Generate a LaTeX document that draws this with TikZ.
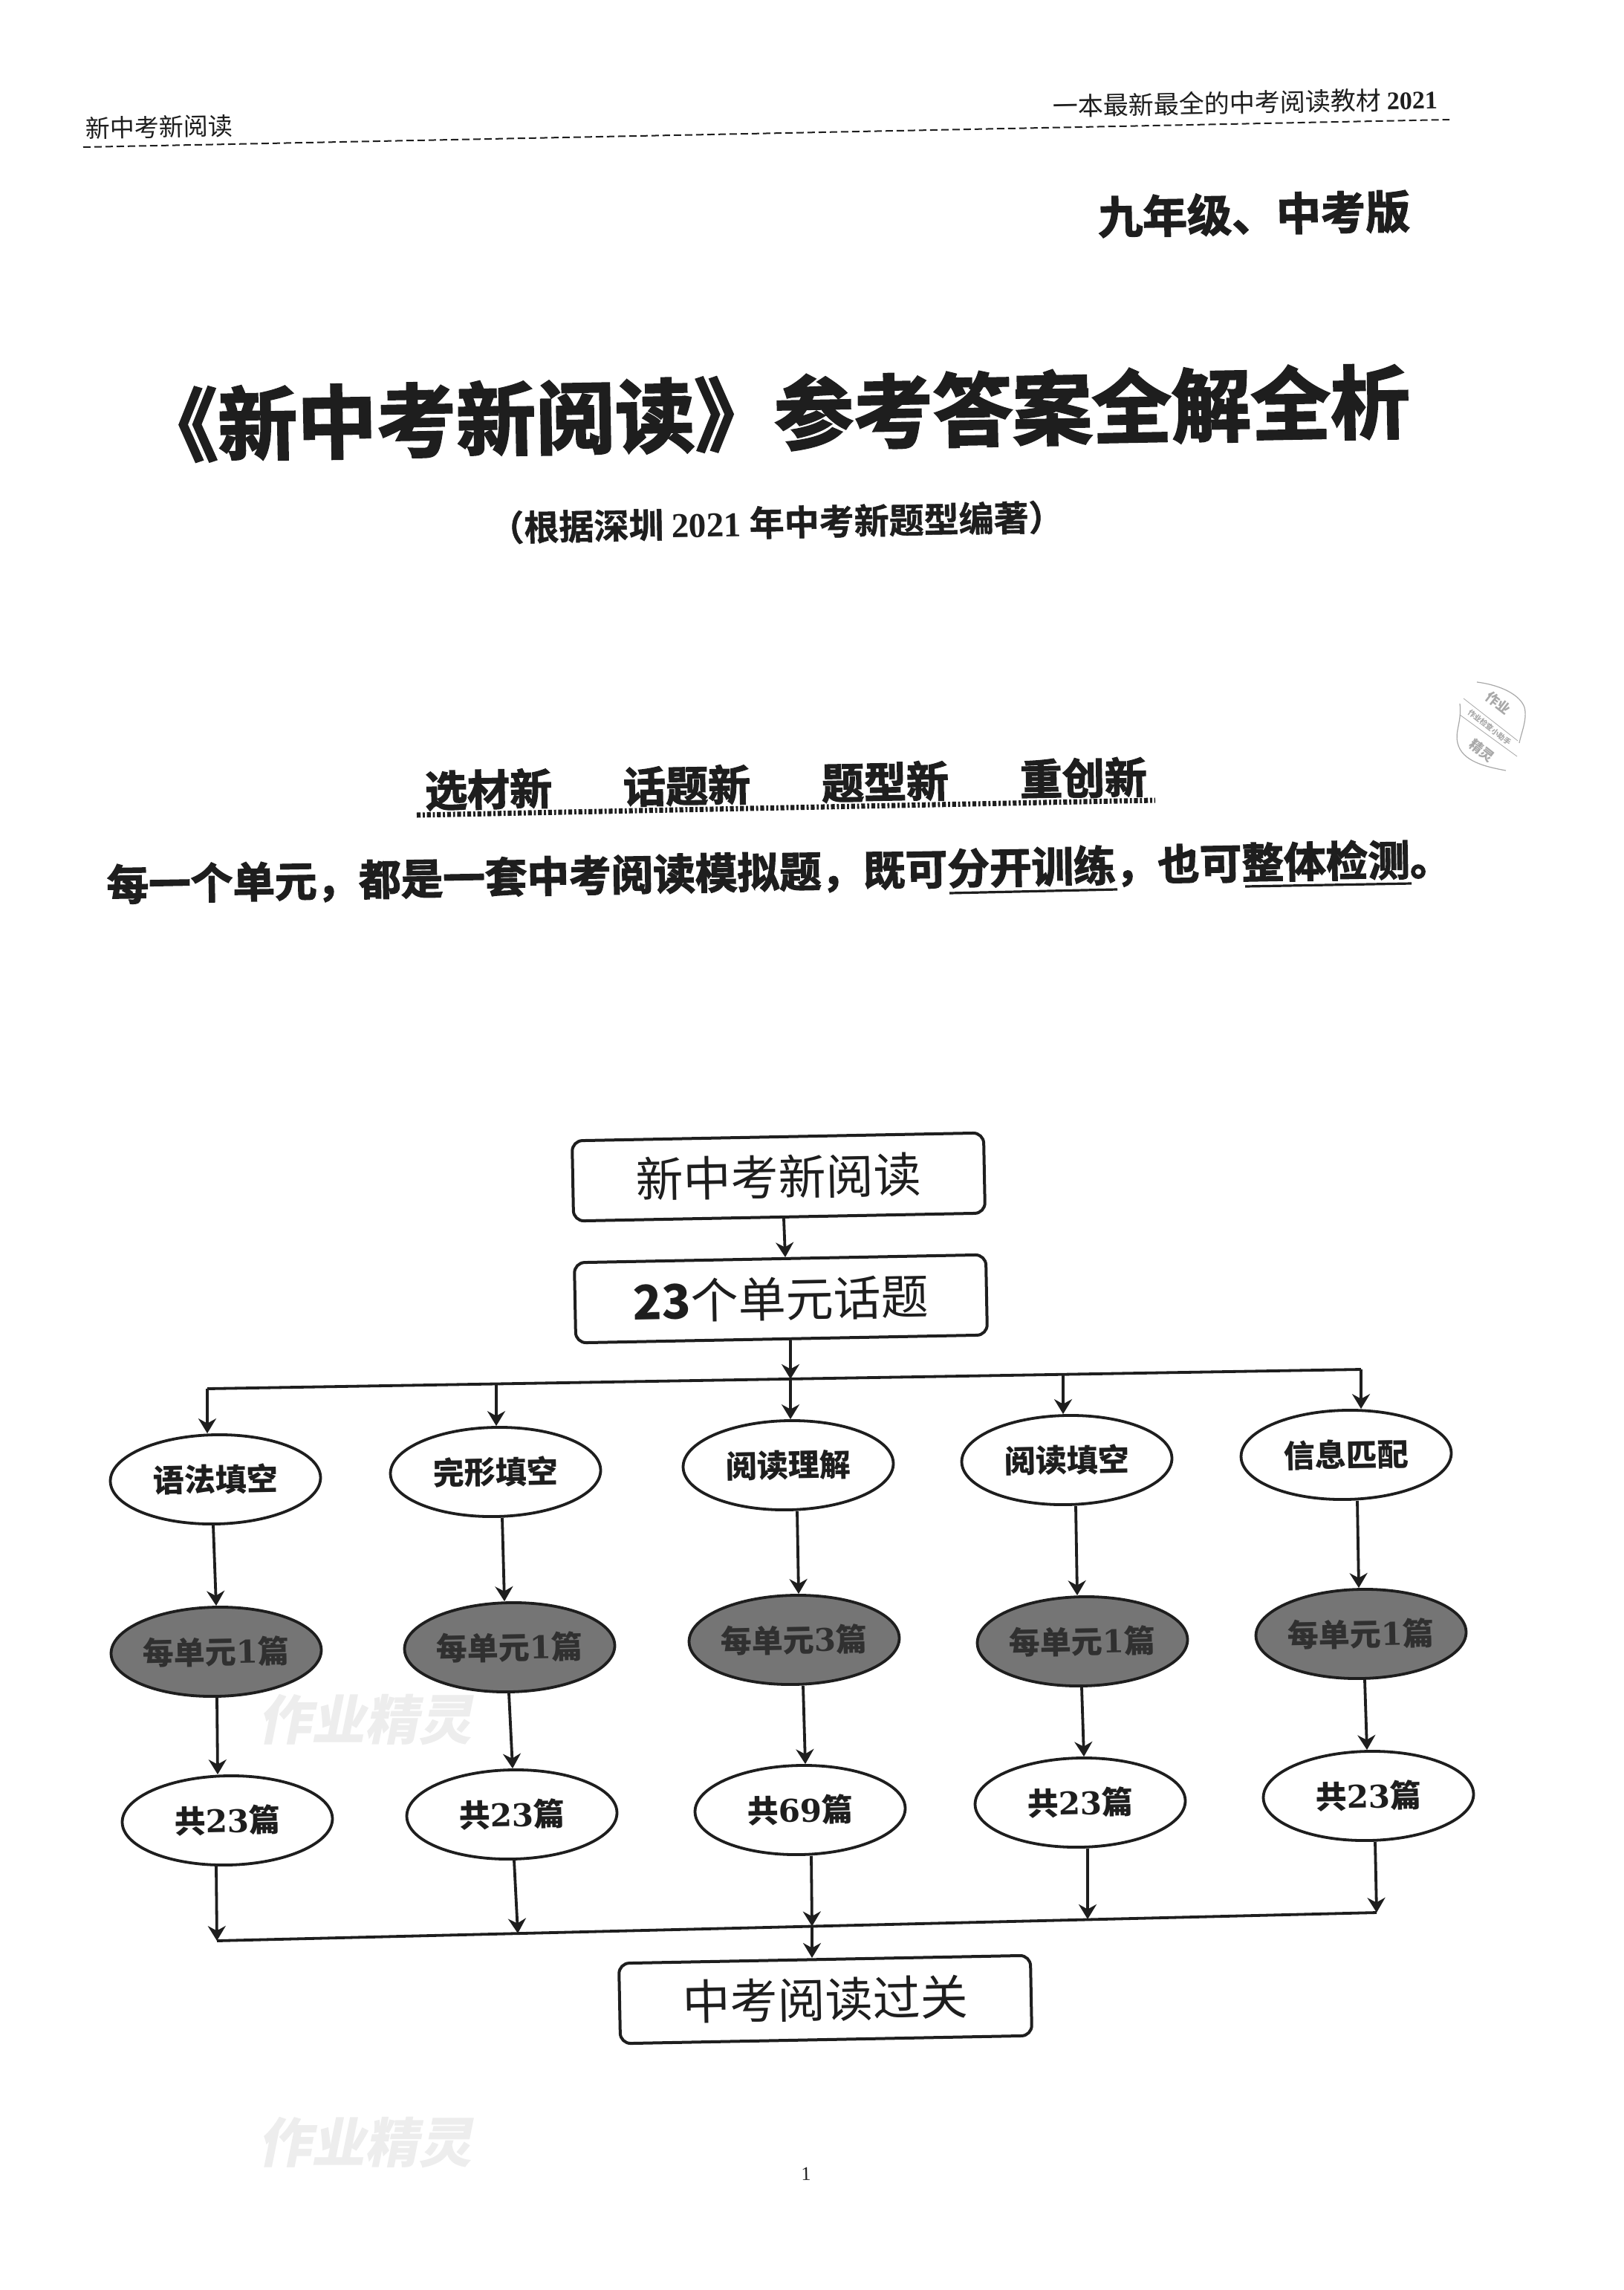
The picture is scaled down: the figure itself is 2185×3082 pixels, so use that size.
\documentclass[tikz,border=0pt]{standalone}
\usepackage{fontspec}
\setmainfont{Liberation Serif}
\newfontfamily\cjk{Noto Sans CJK SC}
\newfontfamily\cjkheavy[FakeBold=2.5]{Noto Sans CJK SC Bold}
\newfontfamily\cjkbold[FakeBold=1]{Noto Sans CJK SC Bold}
\newfontfamily\numfont{DejaVu Serif}
\usetikzlibrary{arrows.meta,shapes.geometric}
\definecolor{ink}{HTML}{1E1E1E}
\definecolor{darkfill}{HTML}{757575}
\definecolor{darktext}{HTML}{303030}
\definecolor{wm}{HTML}{EDEDED}
\definecolor{stampc}{HTML}{A8A8A8}
\newcommand{\fsz}[1]{\fontsize{#1}{#1}\selectfont}
\newcommand{\dg}[1]{{\numfont\bfseries #1}}
\tikzset{
  page text/.style={inner sep=0pt,rotate=1.1,text=ink},
  headbox/.style={draw=ink,line width=2pt,rounded corners=7pt,minimum width=277pt,minimum height=54pt,inner sep=0pt,rotate=1.1,fill=white,text=ink,font=\cjk\fsz{32}},
  oval/.style={ellipse,draw=ink,line width=1.9pt,minimum width=141.5pt,minimum height=60pt,inner sep=0pt,rotate=1.1,fill=white,text=ink,font=\cjk\bfseries\fsz{21}},
  darkoval/.style={oval,fill=darkfill,text=darktext},
  arr/.style={draw=ink,line width=1.9pt,-{Stealth[length=10pt,width=12pt]},shorten <=0pt},
  bus/.style={draw=ink,line width=1.9pt},
  watermark/.style={inner sep=0pt,text=wm,font=\cjk\bfseries\fsz{36},xslant=.2},
  stamp/.style={draw=stampc,line width=.6pt},
  stamptext/.style={inner sep=0pt,text=stampc,rotate=-38,font=\cjk\bfseries\fsz{9}},
}
% connector: from node #2 at x=#1 to node #4 at x=#3
\newcommand{\conn}[4]{\draw[arr] (#1,0 |- #2.south) -- (#3,0 |- #4.north);}
\begin{document}
\begin{tikzpicture}[x=.5pt,y=-.5pt]
\useasboundingbox (0,0) rectangle (2185,3082);
% headers
\node[page text,font=\cjk\fsz{16.5}] (hl) at (214,171) {新中考新阅读};
\node[page text,font=\cjk\fsz{17}] (hr) at (1676,138) {一本最新最全的中考阅读教材 {\rmfamily\bfseries 2021}};
\coordinate (dl) at (112,198); \coordinate (dr) at (1951,161);
\draw[ink,line width=1pt,dash pattern=on 5pt off 2.5pt] (dl) -- (dr);
\node[page text,font=\cjkheavy\fsz{30}] (grade) at (1688,288) {九年级、中考版};
% title
\node[page text,font=\cjkheavy\fsz{53.5}] (title) at (1042,556) {《新中考新阅读》参考答案全解全析};
\node[page text,font=\cjkbold\fsz{23.5}] (sub) at (1045,703) {（根据深圳 {\rmfamily\bfseries 2021} 年中考新题型编著）};
% slogans
\node[page text,font=\cjkheavy\fsz{28.5}] (slog) at (1058,1055) {选材新\hspace{48pt}话题新\hspace{48pt}题型新\hspace{48pt}重创新};
\coordinate (sl) at (561,1097); \coordinate (sr) at (1555,1077);
\draw[ink,line width=3.5pt,dash pattern=on 2.6pt off 1.4pt on 1.4pt off 1.4pt] (sl) -- (sr);
\node[page text,font=\cjkheavy\fsz{28.3}] (sent) at (1049,1174) {每一个单元，都是一套中考阅读模拟题，既可分开训练，也可整体检测。};
\coordinate (u1a) at (1278,1202); \coordinate (u1b) at (1504,1197);
\coordinate (u2a) at (1676,1193); \coordinate (u2b) at (1900,1189);
\draw[ink,line width=1.6pt] (u1a) -- (u1b);
\draw[ink,line width=1.6pt] (u2a) -- (u2b);
% stamp
\coordinate (s1) at (1988,918); \coordinate (s2) at (2052,952); \coordinate (s3) at (2045,1000);
\coordinate (s4) at (1965,947); \coordinate (s5) at (1962,1000); \coordinate (s6) at (2027,1037);
\draw[stamp] (s1) .. controls (2020,922) and (2046,935) .. (s2) .. controls (2056,968) and (2048,985) .. (s3);
\draw[stamp] (s4) .. controls (1968,970) and (1958,985) .. (s5) .. controls (1968,1025) and (2000,1032) .. (s6);
\coordinate (b1) at (1970,940); \coordinate (b2) at (2043,997); \coordinate (b3) at (1965,962); \coordinate (b4) at (2042,1018);
\draw[stamp,line width=.4pt] (b1) -- (b2);
\draw[stamp,line width=.4pt] (b3) -- (b4);
\node[stamptext] (st1) at (2017,946) {作业};
\node[stamptext,font=\cjk\bfseries\fsz{5}] (st2) at (2005,979) {作业检查小助手};
\node[stamptext] (st3) at (1995,1010) {精灵};
% watermarks
\node[watermark] (wm1) at (497,2315) {作业精灵};
\node[watermark] (wm2) at (497,2883) {作业精灵};
% flow
\node[headbox] (top) at (1048,1584) {新中考新阅读};
\node[headbox] (units) at (1051,1748) {{\bfseries 23}个单元话题};
\foreach \n/\x/\y/\t in {a1/290/1991/语法填空,b1n/667/1981/完形填空,c1/1061/1972/阅读理解,d1/1436/1965/阅读填空,e1/1812/1958/信息匹配}
  \node[oval] (\n) at (\x,\y) {\t};
\foreach \n/\x/\y/\d in {a2/291/2223/1,b2n/686/2217/1,c2/1069/2207/3,d2/1457/2209/1,e2/1832/2199/1}
  \node[darkoval] (\n) at (\x,\y) {每单元\dg{\d}篇};
\foreach \n/\x/\y/\d in {a3/306/2450/23,b3n/689/2442/23,c3/1077/2436/69,d3/1454/2426/23,e3/1842/2417/23}
  \node[oval] (\n) at (\x,\y) {共\dg{\d}篇};
\node[headbox] (goal) at (1111,2691) {中考阅读过关};
\node[page text,font=\rmfamily\fsz{13}] (pg) at (1085,2926) {1};
% top connectors
\draw[arr] (1055,0 |- top.south) -- (1057,0 |- units.north);
\coordinate (busTL) at (279,1869);
\coordinate (busT2) at (668,1862.5);
\coordinate (busT3) at (1064,1856);
\coordinate (busT4) at (1431,1850);
\coordinate (busTR) at (1832,1843);
\draw[arr] (1064,0 |- units.south) -- (busT3);
\draw[bus] (279,1869) -- (busTR);
\draw[arr] (busTL) -- (busTL |- a1.north);
\draw[arr] (busT2) -- (busT2 |- b1n.north);
\draw[arr] (busT3) -- (busT3 |- c1.north);
\draw[arr] (busT4) -- (busT4 |- d1.north);
\draw[arr] (busTR) -- (busTR |- e1.north);
% vertical connectors
\conn{287}{a1}{291}{a2}
\conn{676}{b1n}{679}{b2n}
\conn{1073}{c1}{1075}{c2}
\conn{1448}{d1}{1450}{d2}
\conn{1827}{e1}{1829}{e2}
\conn{292}{a2}{293}{a3}
\conn{685}{b2n}{690}{b3n}
\conn{1081}{c2}{1084}{c3}
\conn{1456}{d2}{1459}{d3}
\conn{1837}{e2}{1840}{e3}
% bottom bus
\coordinate (busBL) at (292,2612);
\coordinate (busB2) at (697,2602);
\coordinate (busB3) at (1093,2592.5);
\coordinate (busB4) at (1464,2583);
\coordinate (busBR) at (1853,2574);
\draw[bus] (busBL) -- (busBR);
\draw[arr] (291,0 |- a3.south) -- (busBL);
\draw[arr] (692,0 |- b3n.south) -- (busB2);
\draw[arr] (1092,0 |- c3.south) -- (busB3);
\draw[arr] (1464,0 |- d3.south) -- (busB4);
\draw[arr] (1851,0 |- e3.south) -- (busBR);
\draw[arr] (busB3) -- (busB3 |- goal.north);
\end{tikzpicture}
\end{document}
